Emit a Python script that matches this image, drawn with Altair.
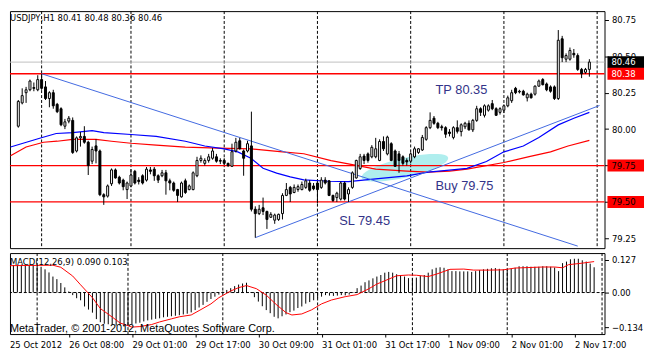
import altair as alt
import numpy as np
import pandas as pd

# ---------------- data ----------------
opens = [80.31, 80.14, 80.02, 80.18, 80.25, 80.27, 80.285, 80.27, 80.34, 80.29,
         80.21, 80.25, 80.17, 80.14, 80.02, 80.055, 80.06, 79.85, 79.94, 79.95,
         79.91, 79.78, 79.885, 79.85, 79.55, 79.54, 79.625, 79.72, 79.67, 79.65,
         79.585, 79.61, 79.71, 79.65, 79.68, 79.65, 79.72, 79.725, 79.68, 79.68,
         79.70, 79.645, 79.63, 79.585, 79.535, 79.645, 79.585, 79.585, 79.68, 79.785,
         79.765, 79.785, 79.80, 79.81, 79.785, 79.785, 79.765, 79.745, 79.85, 79.92,
         79.85, 79.85, 79.885, 79.45, 79.42, 79.46, 79.435, 79.395, 79.375, 79.38,
         79.42, 79.545, 79.60, 79.565, 79.585, 79.585, 79.60, 79.63, 79.61, 79.63,
         79.60, 79.65, 79.645, 79.545, 79.53, 79.52, 79.63, 79.555, 79.60, 79.665,
         79.73, 79.815, 79.83, 79.81, 79.81, 79.785, 79.915, 79.83, 79.90, 79.85,
         79.83, 79.81, 79.785, 79.78, 79.81, 79.84, 79.857, 79.93, 80.01, 80.075,
         80.04, 80.016, 80.01, 79.98, 79.943, 80.01, 79.983, 80.016, 80.04, 79.995,
         80.06, 80.14, 80.095, 80.13, 80.175, 80.14, 80.115, 80.13, 80.16, 80.195,
         80.28, 80.255, 80.26, 80.215, 80.24, 80.24, 80.295, 80.34, 80.31, 80.29,
         80.29, 80.21, 80.62, 80.48, 80.48, 80.52, 80.505, 80.41, 80.39, 80.41]
highs = [80.33, 80.15, 80.20, 80.28, 80.29, 80.34, 80.32, 80.37, 80.38, 80.33,
         80.26, 80.27, 80.18, 80.15, 80.07, 80.09, 80.08, 79.95, 79.98, 80.02,
         79.92, 79.88, 79.93, 79.86, 79.56, 79.62, 79.73, 79.73, 79.68, 79.66,
         79.64, 79.725, 79.72, 79.67, 79.69, 79.74, 79.74, 79.74, 79.69, 79.72,
         79.72, 79.66, 79.64, 79.59, 79.64, 79.66, 79.62, 79.71, 79.81, 79.82,
         79.80, 79.83, 79.87, 79.83, 79.80, 79.80, 79.77, 79.90, 79.94, 79.94,
         79.86, 79.92, 80.12, 79.47, 79.48, 79.53, 79.44, 79.43, 79.42, 79.42,
         79.56, 79.63, 79.61, 79.62, 79.62, 79.64, 79.66, 79.65, 79.63, 79.64,
         79.67, 79.67, 79.65, 79.55, 79.57, 79.64, 79.64, 79.60, 79.71, 79.79,
         79.83, 79.83, 79.84, 79.89, 79.94, 79.93, 79.95, 79.955, 79.91, 79.86,
         79.85, 79.82, 79.80, 79.84, 79.88, 79.87, 79.96, 80.02, 80.115, 80.09,
         80.05, 80.03, 80.02, 80.00, 80.02, 80.06, 80.04, 80.05, 80.06, 80.07,
         80.16, 80.15, 80.17, 80.17, 80.20, 80.15, 80.15, 80.17, 80.23, 80.27,
         80.29, 80.27, 80.27, 80.25, 80.25, 80.30, 80.34, 80.35, 80.32, 80.30,
         80.30, 80.68, 80.64, 80.52, 80.56, 80.55, 80.52, 80.42, 80.42, 80.48]
lows = [80.13, 79.93, 80.01, 80.17, 80.18, 80.26, 80.26, 80.26, 80.27, 80.20,
        80.15, 80.14, 80.11, 80.02, 80.00, 80.04, 79.83, 79.84, 79.88, 79.90,
        79.685, 79.76, 79.765, 79.54, 79.48, 79.53, 79.61, 79.66, 79.62, 79.58,
        79.52, 79.60, 79.62, 79.62, 79.62, 79.64, 79.69, 79.645, 79.63, 79.67,
        79.55, 79.58, 79.57, 79.50, 79.53, 79.555, 79.58, 79.58, 79.67, 79.77,
        79.75, 79.77, 79.79, 79.77, 79.76, 79.755, 79.74, 79.74, 79.84, 79.86,
        79.68, 79.84, 79.435, 79.255, 79.41, 79.41, 79.315, 79.39, 79.35, 79.37,
        79.38, 79.54, 79.50, 79.56, 79.57, 79.58, 79.59, 79.57, 79.58, 79.49,
        79.59, 79.62, 79.54, 79.50, 79.50, 79.51, 79.51, 79.50, 79.59, 79.66,
        79.72, 79.76, 79.77, 79.80, 79.80, 79.78, 79.85, 79.82, 79.78, 79.74,
        79.70, 79.75, 79.75, 79.765, 79.80, 79.83, 79.85, 79.92, 80.00, 80.03,
        80.00, 79.99, 79.94, 79.95, 79.93, 79.97, 79.95, 80.00, 79.99, 79.98,
        80.05, 80.09, 80.08, 80.12, 80.13, 80.09, 80.10, 80.11, 80.15, 80.18,
        80.24, 80.245, 80.23, 80.19, 80.21, 80.23, 80.29, 80.30, 80.26, 80.25,
        80.20, 80.20, 80.46, 80.46, 80.47, 80.49, 80.40, 80.35, 80.38, 80.36]
closes = [80.15, 80.03, 80.19, 80.23, 80.27, 80.33, 80.28, 80.34, 80.28, 80.21,
          80.25, 80.16, 80.12, 80.03, 80.05, 80.075, 79.84, 79.94, 79.95, 79.91,
          79.75, 79.86, 79.85, 79.55, 79.535, 79.61, 79.72, 79.665, 79.63, 79.605,
          79.63, 79.685, 79.63, 79.64, 79.63, 79.725, 79.71, 79.68, 79.65, 79.70,
          79.645, 79.63, 79.58, 79.545, 79.63, 79.565, 79.61, 79.70, 79.785, 79.80,
          79.785, 79.81, 79.85, 79.78, 79.78, 79.765, 79.75, 79.845, 79.91, 79.865,
          79.80, 79.90, 79.45, 79.42, 79.45, 79.435, 79.38, 79.415, 79.41, 79.415,
          79.545, 79.585, 79.555, 79.60, 79.605, 79.62, 79.645, 79.58, 79.59, 79.585,
          79.65, 79.63, 79.545, 79.51, 79.56, 79.63, 79.52, 79.585, 79.70, 79.785,
          79.81, 79.785, 79.785, 79.875, 79.865, 79.915, 79.865, 79.945, 79.785, 79.745,
          79.785, 79.765, 79.775, 79.83, 79.865, 79.865, 79.943, 80.01, 80.06, 80.04,
          80.01, 80.01, 79.965, 79.97, 80.01, 79.985, 80.03, 80.04, 79.995, 80.06,
          80.14, 80.115, 80.16, 80.16, 80.14, 80.095, 80.14, 80.16, 80.215, 80.25,
          80.25, 80.26, 80.235, 80.24, 80.215, 80.295, 80.33, 80.305, 80.27, 80.26,
          80.21, 80.61, 80.49, 80.505, 80.54, 80.51, 80.41, 80.38, 80.41, 80.46]

# moving averages (bar index, price)
ma_blue = [(0, 79.877), (7.5, 79.937), (11.75, 79.970), (16, 79.976), (21, 79.990),
           (24, 79.976), (31, 79.963), (37.5, 79.950), (45, 79.917), (50, 79.884),
           (55, 79.864), (58.5, 79.844), (62, 79.798), (65, 79.731), (68.5, 79.698),
           (72, 79.672), (75.5, 79.652), (82, 79.642), (87, 79.639), (94, 79.659),
           (102, 79.679), (107.5, 79.705), (113, 79.718), (117.5, 79.731), (122.5, 79.778),
           (127, 79.844), (132, 79.884), (136, 79.943), (141, 80.029), (145, 80.075),
           (149, 80.115)]
ma_red = [(0, 79.817), (4, 79.877), (8.5, 79.910), (12, 79.917), (16, 79.930),
          (22, 79.930), (26, 79.917), (31, 79.903), (37.5, 79.890), (45, 79.877),
          (53.5, 79.870), (62, 79.864), (70, 79.844), (75.5, 79.831), (82.5, 79.784),
          (89, 79.751), (94, 79.725), (102, 79.712), (107.5, 79.705), (113, 79.712),
          (117.5, 79.725), (127, 79.771), (133.5, 79.811), (139, 79.844), (143.5, 79.884),
          (149, 79.923)]

# trend lines: (id, bar index, price)
trend_lines = [("down", 8, 80.38), ("down", 146, 79.197),
               ("up", 63, 79.255), ("up", 151.6, 80.162)]

# horizontal price lines
red_line_prices = [80.38, 79.75, 79.50]
bid_price = [80.46]
box_prices = [80.46, 80.38, 79.75, 79.50]
box_text_colors = ["white", "white", "black", "black"]
box_fill_colors = ["black", "#FF0000", "#FF0000", "#FF0000"]

# day separators (bar index)
separators = [8, 31, 55, 79, 103, 127, 151]

# annotation texts (bar index, price, text)
annotations = [(109.4, 80.267, "TP 80.35"), (109.4, 79.606, "Buy 79.75"), (84.6, 79.368, "SL 79.45")]
ellipse_center = (101.5, 79.735)

# MACD histogram per bar
macd_hist = [0.105, 0.106, 0.107, 0.107, 0.108, 0.108, 0.107, 0.107, 0.106, 0.100,
             0.090, 0.078, 0.062, 0.052, 0.037, 0.020, 0.004, -0.010, -0.022, -0.030,
             -0.054, -0.066, -0.078, -0.103, -0.115, -0.121, -0.123, -0.125, -0.128, -0.128,
             -0.132, -0.128, -0.122, -0.120, -0.117, -0.112, -0.108, -0.105, -0.102, -0.100,
             -0.096, -0.094, -0.092, -0.090, -0.088, -0.085, -0.082, -0.077, -0.068, -0.058,
             -0.048, -0.036, -0.025, -0.016, -0.008, 0.004, 0.010, 0.017, 0.025, 0.031,
             0.035, 0.038, 0.002, -0.018, -0.035, -0.053, -0.068, -0.080, -0.094, -0.100,
             -0.092, -0.085, -0.076, -0.070, -0.060, -0.054, -0.043, -0.037, -0.030, -0.022,
             -0.016, -0.010, -0.012, -0.013, -0.012, -0.010, -0.011, -0.008, 0.002, 0.017,
             0.027, 0.040, 0.047, 0.055, 0.062, 0.068, 0.077, 0.080, 0.077, 0.071,
             0.068, 0.062, 0.056, 0.056, 0.058, 0.065, 0.068, 0.077, 0.090, 0.096,
             0.098, 0.096, 0.090, 0.083, 0.083, 0.082, 0.082, 0.082, 0.080, 0.083,
             0.087, 0.090, 0.092, 0.094, 0.095, 0.092, 0.090, 0.090, 0.092, 0.096,
             0.102, 0.102, 0.102, 0.100, 0.100, 0.100, 0.102, 0.102, 0.100, 0.097,
             0.083, 0.114, 0.120, 0.129, 0.131, 0.131, 0.125, 0.120, 0.112, 0.098]
# MACD signal line (bar index, value)
macd_signal = [(0, 0.104), (12, 0.106), (14, 0.098), (17, 0.064), (19, 0.030), (22, -0.020),
               (24, -0.062), (27, -0.095), (29, -0.118), (32, -0.134), (34, -0.132), (37, -0.124),
               (39, -0.114), (42, -0.102), (44, -0.094), (47, -0.087), (49, -0.070), (52, -0.044),
               (54, -0.020), (57, 0.006), (59, 0.019), (61, 0.027), (63.5, 0.015), (66, -0.010),
               (68.5, -0.046), (71, -0.078), (72.5, -0.087), (75, -0.083), (77.5, -0.067), (80, -0.044),
               (82.5, -0.029), (86, -0.016), (89, -0.008), (92, 0.015), (94, 0.033), (97, 0.052),
               (99, 0.065), (102, 0.068), (104, 0.067), (107, 0.062), (109, 0.071), (112.5, 0.090),
               (116, 0.091), (118.5, 0.087), (122.5, 0.087), (126, 0.088), (129, 0.095), (132.5, 0.097),
               (136, 0.099), (139, 0.099), (141, 0.096), (142.5, 0.108), (146, 0.114), (149, 0.120)]

main_ticks = [79.25, 79.50, 79.75, 80.00, 80.25, 80.50, 80.75]
macd_ticks = [0.127, 0.0, -0.134]
time_tick_idx = [0, 16, 32, 48, 64, 80, 96, 112, 128, 144]
time_tick_labels = ["25 Oct 2012", "26 Oct 08:00", "29 Oct 01:00", "29 Oct 17:00", "30 Oct 09:00",
                    "31 Oct 01:00", "31 Oct 17:00", "1 Nov 09:00", "2 Nov 01:00", "2 Nov 17:00"]

header_text = "USDJPY,H1  80.41 80.48 80.36 80.46"
macd_text = "MACD(12,26,9) 0.090 0.103"
copyright_text = "MetaTrader, © 2001-2012, MetaQuotes Software Corp."

# ---------------- layout / style ----------------
W = 602
H_MAIN = 240
H_MACD = 82
FONT_T = "DejaVu Sans Condensed, Liberation Sans, sans-serif"
FONT_A = "Liberation Sans, Arial, sans-serif"
TXT_BLUE = "#333388"
TREND = "#4169E1"

xs = alt.Scale(domain=[1.125, 151.625], nice=False, zero=False)
ys = alt.Scale(domain=[79.183, 80.81], nice=False, zero=False)
ms = alt.Scale(domain=[-0.161, 0.153], nice=False, zero=False)

label_expr = ("[" + ",".join(f"'{s}'" for s in time_tick_labels) + "][indexof(["
              + ",".join(str(v) for v in time_tick_idx) + "], datum.value)]")

AX_MAIN_Y = alt.Axis(orient="right", values=main_ticks, format=".2f", tickSize=4, labelPadding=3,
                     domain=False, grid=False, title=None)
AX_MACD_Y = alt.Axis(orient="right", values=macd_ticks, tickSize=4, labelPadding=3,
                     domain=False, grid=False, title=None,
                     labelExpr="datum.value == 0 ? '0.00' : format(datum.value, '.3f')")
AX_MACD_X = alt.Axis(orient="bottom", values=time_tick_idx[1:], labelExpr=label_expr,
                     tickSize=3, labelPadding=3, labelAlign="left", domain=False, grid=False,
                     labelOverlap=False, labelFlush=False, title=None)


def XM(field="i"):
    return alt.X(f"{field}:Q", scale=xs, axis=None)


def XB(field="i"):
    return alt.X(f"{field}:Q", scale=xs, axis=AX_MACD_X)


def YM(field):
    return alt.Y(f"{field}:Q", scale=ys, axis=AX_MAIN_Y)


def YB(field):
    return alt.Y(f"{field}:Q", scale=ms, axis=AX_MACD_Y)


n = len(closes)
candles = pd.DataFrame({"i": np.arange(n), "o": opens, "h": highs, "l": lows, "c": closes})
candles["fill"] = np.where(candles["c"] >= candles["o"], "white", "black")
candles = candles[candles["i"] >= 2]

blue_df = pd.DataFrame(ma_blue, columns=["i", "v"])
red_df = pd.DataFrame(ma_red, columns=["i", "v"])
trend_df = pd.DataFrame(trend_lines, columns=["s", "i", "p"])
red_hl = pd.DataFrame({"p": red_line_prices})
bid_hl = pd.DataFrame({"p": bid_price})
box_df = pd.DataFrame({"p": box_prices, "fg": box_text_colors, "bg": box_fill_colors,
                       "t": [f"{p:.2f}" for p in box_prices]})
sep_df = pd.DataFrame({"i": separators})
ann_df = pd.DataFrame(annotations, columns=["i", "p", "t"])

t = np.linspace(0, 2 * np.pi, 48, endpoint=False)
ell_path = "M" + " L".join(f"{np.cos(a):.3f},{0.22 * np.sin(a):.3f}" for a in t) + " Z"

ellipse = alt.Chart(pd.DataFrame({"i": [ellipse_center[0]], "p": [ellipse_center[1]]})).mark_point(
    shape=ell_path, size=8100, angle=347, filled=True, color="#AFEEEE", opacity=1, strokeWidth=0
).encode(x=XM(), y=YM("p"))

vlines = alt.Chart(sep_df).mark_rule(color="black", strokeWidth=1, strokeDash=[3, 2]).encode(x=XM())

gray_line = alt.Chart(bid_hl).mark_rule(color="#C0C0C0", strokeWidth=1).encode(y=YM("p"))
red_lines = alt.Chart(red_hl).mark_rule(color="#FF0000", strokeWidth=1.3).encode(y=YM("p"))

blue_ma = alt.Chart(blue_df).mark_line(color="#0000FF", strokeWidth=1.2, clip=True).encode(
    x=XM(), y=YM("v"), order="i:Q")
red_ma = alt.Chart(red_df).mark_line(color="#FF0000", strokeWidth=1.2, clip=True).encode(
    x=XM(), y=YM("v"), order="i:Q")

trend = alt.Chart(trend_df).mark_line(strokeWidth=1, color=TREND, clip=True).encode(
    x=XM(), y=YM("p"), detail="s:N", order="i:Q")

wicks = alt.Chart(candles).mark_rule(color="black", strokeWidth=1, clip=True).encode(
    x=XM(), y=YM("l"), y2="h:Q")

bodies = alt.Chart(candles).mark_bar(size=2, stroke="black", strokeWidth=1, clip=True).encode(
    x=XM(), y=YM("o"), y2="c:Q", fill=alt.Fill("fill:N", scale=None))

ann = alt.Chart(ann_df).mark_text(align="left", baseline="middle", font=FONT_A, fontSize=13,
                                  color=TXT_BLUE).encode(x=XM(), y=YM("p"), text="t:N")

header = alt.Chart(pd.DataFrame({"t": [header_text]})).mark_text(
    align="left", baseline="middle", font=FONT_T, fontSize=9.5, color="black"
).encode(x=alt.value(0), y=alt.value(7), text="t:N")

boxes = alt.Chart(box_df).mark_tick(orient="horizontal", size=37, thickness=12, opacity=1).encode(
    x=alt.value(623.5), y=YM("p"), color=alt.Color("bg:N", scale=None))

box_text = alt.Chart(box_df).mark_text(align="left", baseline="middle", font=FONT_T, fontSize=9.5).encode(
    x=alt.value(609), y=YM("p"), text="t:N", color=alt.Color("fg:N", scale=None))

main = alt.layer(ellipse, vlines, gray_line, red_lines, red_ma, blue_ma, trend, wicks, bodies,
                 ann, header, boxes, box_text).properties(width=W, height=H_MAIN)

# ---------------- MACD panel ----------------
macd_df = pd.DataFrame({"i": np.arange(n), "v": macd_hist, "z": 0.0})
macd_df = macd_df[macd_df["i"] >= 2]
sig_df = pd.DataFrame(macd_signal, columns=["i", "v"])

m_vlines = alt.Chart(sep_df).mark_rule(color="black", strokeWidth=1, strokeDash=[3, 2]).encode(x=XB())
zero_line = alt.Chart(pd.DataFrame({"z": [0.0]})).mark_rule(
    color="black", strokeWidth=1, strokeDash=[3, 2]).encode(y=YB("z"))

hist = alt.Chart(macd_df).mark_rule(color="black", strokeWidth=1, clip=True).encode(
    x=XB(), y=YB("v"), y2="z:Q")

signal = alt.Chart(sig_df).mark_line(color="#FF0000", strokeWidth=1, clip=True).encode(
    x=XB(), y=YB("v"), order="i:Q")

m_label = alt.Chart(pd.DataFrame({"t": [macd_text]})).mark_text(
    align="left", baseline="middle", font=FONT_T, fontSize=9.5, color="black"
).encode(x=alt.value(0), y=alt.value(9), text="t:N")

m_copy = alt.Chart(pd.DataFrame({"t": [copyright_text]})).mark_text(
    align="left", baseline="middle", font=FONT_A, fontSize=11, color="black"
).encode(x=alt.value(0), y=alt.value(77), text="t:N")

first_label = alt.Chart(pd.DataFrame({"t": [time_tick_labels[0]]})).mark_text(
    align="left", baseline="top", font=FONT_T, fontSize=9.5, color="black"
).encode(x=alt.value(0), y=alt.value(H_MACD + 6), text="t:N")

macd = alt.layer(m_vlines, zero_line, hist, signal, m_label, m_copy, first_label).properties(
    width=W, height=H_MACD)

chart = alt.vconcat(main, macd, spacing=3).properties(
    padding={"left": 0, "top": 0, "right": 0, "bottom": 0}, background="white"
).configure_view(stroke="black", strokeWidth=1).configure_axis(
    labelFont=FONT_T, labelFontSize=9.5, labelColor="black", tickColor="black", tickWidth=1
)

chart.save("out.html", embed_options={"renderer": "svg", "actions": False})
